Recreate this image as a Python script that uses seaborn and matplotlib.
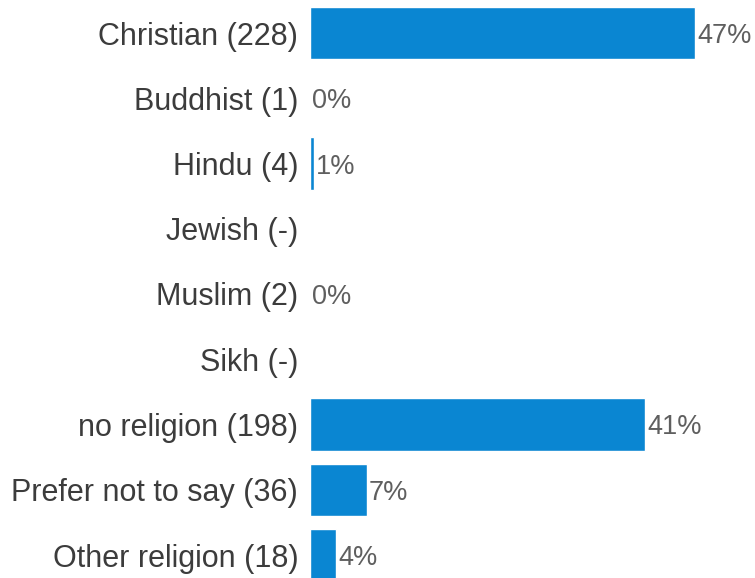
import matplotlib
matplotlib.use("Agg")
import matplotlib.pyplot as plt
import seaborn as sns

categories = ["Christian (228)", "Buddhist (1)", "Hindu (4)", "Jewish (-)", "Muslim (2)",
              "Sikh (-)", "no religion (198)", "Prefer not to say (36)", "Other religion (18)"]
values = [46.8, 0.0, 0.5, 0.0, 0.0, 0.0, 40.7, 6.9, 3.2]
value_labels = ["47%", "0%", "1%", "", "0%", "", "41%", "7%", "4%"]

sns.set_style("white")
plt.rcParams["font.family"] = ["Liberation Sans", "DejaVu Sans"]

W, H = 755, 578
fig = plt.figure(figsize=(W / 100, H / 100), dpi=100)
ax = fig.add_axes([310 / W, 0, 1 - 310 / W, 1])

bar_color = "#0a86d2"
sns.barplot(x=values, y=categories, color=bar_color, width=0.8, orient="h",
            saturation=1, ax=ax)

ax.set_xlim(0, 445 / 8.23)
ax.set_ylim(8 + 23 / 65.25, -33 / 65.25)

for i, (v, lab) in enumerate(zip(values, value_labels)):
    if lab:
        ax.annotate(lab, xy=(v, i), xytext=(1.5, 0), textcoords="offset points",
                    va="center_baseline", ha="left", fontsize=19.5, color="#5f5f5f")

for s in ax.spines.values():
    s.set_visible(False)
ax.set_xticks([])
ax.set_xlabel("")
ax.set_ylabel("")
ax.tick_params(axis="y", length=0, pad=8.5, labelsize=22, labelcolor="#3c3c3c")

fig.savefig("out.png", dpi=100)
